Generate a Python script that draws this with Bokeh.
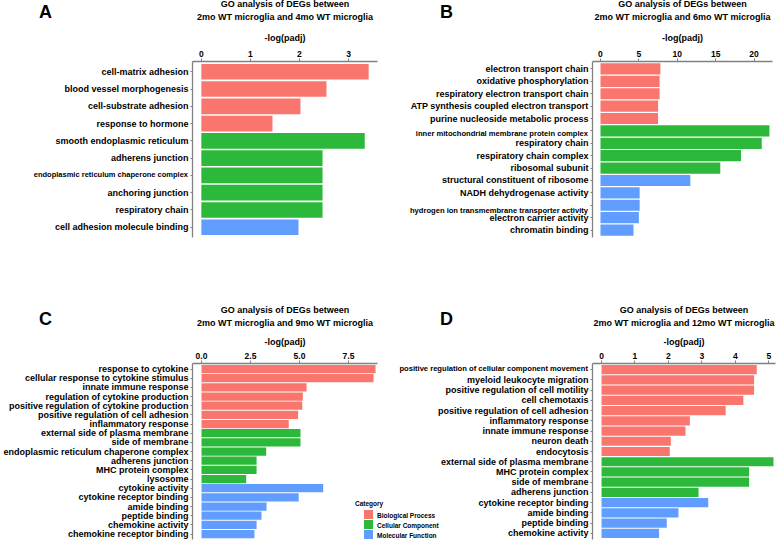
from bokeh.plotting import figure
from bokeh.models import (ColumnDataSource, FactorRange, Range1d, FixedTicker, Title, Div,
                          NumeralTickFormatter, CustomJSTickFormatter)
from bokeh.layouts import row, column
from bokeh.embed import file_html
from bokeh.resources import INLINE

FONT = "Liberation Sans"
CAT_CODES = ["BP", "CC", "MF"]
CAT_NAMES = {"BP": "Biological Process", "CC": "Cellular Component", "MF": "Molecular Function"}
CAT_COLORS = {"BP": "#F8766D", "CC": "#2CB83A", "MF": "#619CFF"}

# ---- Panel A: 2mo vs 4mo ----
a_terms = ["cell-matrix adhesion", "blood vessel morphogenesis", "cell-substrate adhesion",
           "response to hormone", "smooth endoplasmic reticulum", "adherens junction",
           "endoplasmic reticulum chaperone complex", "anchoring junction", "respiratory chain",
           "cell adhesion molecule binding"]
a_values = [3.41, 2.55, 2.02, 1.45, 3.33, 2.47, 2.47, 2.47, 2.47, 1.98]
a_cats = ["BP", "BP", "BP", "BP", "CC", "CC", "CC", "CC", "CC", "MF"]
a_small = ["endoplasmic reticulum chaperone complex"]
a_ticks = [0, 1, 2, 3]

# ---- Panel B: 2mo vs 6mo ----
b_terms = ["electron transport chain", "oxidative phosphorylation",
           "respiratory electron transport chain", "ATP synthesis coupled electron transport",
           "purine nucleoside metabolic process", "inner mitochondrial membrane protein complex",
           "respiratory chain", "respiratory chain complex", "ribosomal subunit",
           "structural constituent of ribosome", "NADH dehydrogenase activity",
           "hydrogen ion transmembrane transporter activity", "electron carrier activity",
           "chromatin binding"]
b_values = [7.8, 7.7, 7.7, 7.5, 7.5, 22.0, 21.0, 18.3, 15.6, 11.7, 5.1, 5.1, 5.0, 4.3]
b_cats = ["BP"] * 5 + ["CC"] * 4 + ["MF"] * 5
b_small = ["inner mitochondrial membrane protein complex",
           "hydrogen ion transmembrane transporter activity"]
b_ticks = [0, 5, 10, 15, 20]

# ---- Panel C: 2mo vs 9mo ----
c_terms = ["response to cytokine", "cellular response to cytokine stimulus",
           "innate immune response", "regulation of cytokine production",
           "positive regulation of cytokine production", "positive regulation of cell adhesion",
           "inflammatory response", "external side of plasma membrane", "side of membrane",
           "endoplasmic reticulum chaperone complex", "adherens junction", "MHC protein complex",
           "lysosome", "cytokine activity", "cytokine receptor binding", "amide binding",
           "peptide binding", "chemokine activity", "chemokine receptor binding"]
c_values = [8.88, 8.78, 5.36, 5.17, 5.14, 4.93, 4.45, 5.05, 5.05, 3.30, 2.81, 2.81, 2.28,
            6.21, 4.96, 3.32, 3.06, 2.81, 2.70]
c_cats = ["BP"] * 7 + ["CC"] * 6 + ["MF"] * 6
c_small = []
c_ticks = [0, 2.5, 5, 7.5]

# ---- Panel D: 2mo vs 12mo ----
d_terms = ["positive regulation of cellular component movement", "myeloid leukocyte migration",
           "positive regulation of cell motility", "cell chemotaxis",
           "positive regulation of cell adhesion", "inflammatory response",
           "innate immune response", "neuron death", "endocytosis",
           "external side of plasma membrane", "MHC protein complex", "side of membrane",
           "adherens junction", "cytokine receptor binding", "amide binding", "peptide binding",
           "chemokine activity"]
d_values = [4.64, 4.56, 4.56, 4.24, 3.71, 2.64, 2.51, 2.07, 2.04, 5.14, 4.41, 4.41, 2.90,
            3.19, 2.30, 1.95, 1.72]
d_cats = ["BP"] * 9 + ["CC"] * 4 + ["MF"] * 4
d_small = ["positive regulation of cellular component movement"]
d_ticks = [0, 1, 2, 3, 4, 5]

AXIS_COLOR = "#808080"


def style_text(obj, prefix, size):
    setattr(obj, prefix + "text_font", FONT)
    setattr(obj, prefix + "text_font_size", size)
    setattr(obj, prefix + "text_font_style", "bold")
    setattr(obj, prefix + "text_color", "black")


def panel(terms, values, cats, small, ticks, months, xr, width, height,
          bl, br, bt, bb, stand, fmt=None):
    factors = terms[::-1]
    p = figure(width=width, height=height, title=None,
               y_range=FactorRange(factors=factors, range_padding=0.1,
                                   range_padding_units="absolute"),
               x_range=Range1d(*xr), x_axis_location="above",
               output_backend="svg", toolbar_location=None,
               min_border_left=bl, min_border_right=br,
               min_border_top=bt, min_border_bottom=bb)
    p.border_fill_color = None
    p.background_fill_color = None
    p.outline_line_color = None
    p.xgrid.grid_line_color = None
    p.ygrid.grid_line_color = None

    for code in CAT_CODES:
        ys = [t for t, c in zip(terms, cats) if c == code]
        vs = [v for v, c in zip(values, cats) if c == code]
        if not ys:
            continue
        src = ColumnDataSource(dict(y=ys, right=vs))
        p.hbar(y="y", left=0, right="right", height=0.9, source=src,
               fill_color=CAT_COLORS[code], line_color=None)

    xa = p.xaxis[0]
    xa.ticker = FixedTicker(ticks=ticks)
    if fmt:
        xa.formatter = NumeralTickFormatter(format=fmt)
    xa.axis_label = "-log(padj)"
    style_text(xa, "axis_label_", "9px")
    xa.axis_label_standoff = stand[0]
    style_text(xa, "major_label_", "8.5px")
    xa.major_label_standoff = 2
    xa.major_tick_out = 3
    xa.major_tick_in = 0
    xa.minor_tick_line_color = None
    xa.axis_line_color = AXIS_COLOR
    xa.axis_line_width = 1.3
    xa.major_tick_line_color = AXIS_COLOR

    ya = p.yaxis[0]
    style_text(ya, "major_label_", "9px")
    ya.major_label_standoff = 2
    ya.major_tick_out = 2
    ya.major_tick_in = 0
    ya.axis_line_color = AXIS_COLOR
    ya.axis_line_width = 1.3
    ya.major_tick_line_color = AXIS_COLOR
    if small:
        # these terms are written in a smaller type next to the axis (see small_labels)
        ya.formatter = CustomJSTickFormatter(args=dict(small=small),
                                             code="return small.includes(tick) ? '' : tick")

    t2 = Title(text="2mo WT microglia and %s WT microglia" % months, align="center",
               standoff=stand[1])
    t1 = Title(text="GO analysis of DEGs between", align="center", standoff=stand[2])
    for t in (t2, t1):
        style_text(t, "", "9px")
        p.add_layout(t, "above")
    return p


def overlay_margin(left, top, width, cursor):
    # zero net width: the item is laid over what precedes it in the row
    return (top, cursor - left - width, 0, left - cursor)


def overlay(text, left, top, width, height, cursor, size, align="left", line=None):
    return Div(text=text, width=width, height=height,
               margin=overlay_margin(left, top, width, cursor),
               styles={"font-family": FONT, "font-size": size, "font-weight": "bold",
                       "line-height": "%dpx" % (line or height), "color": "black",
                       "white-space": "nowrap", "text-align": align})


def small_labels(terms, small, frame_left, frame_top, frame_h, cursor, size):
    pitch = frame_h / (len(terms) + 0.2)
    out = []
    for s in small:
        cy = frame_top + (0.6 + terms.index(s)) * pitch
        out.append(overlay(s, frame_left - 4 - 230, round(cy - 5), 230, 10, cursor, size,
                           align="right"))
    return out


def legend_div(left, top, cursor):
    rows = ["<div style='line-height:10px;margin-bottom:1px'>Category</div>"]
    for code in CAT_CODES:
        rows.append(
            "<div style='height:10px;line-height:10px;margin-left:9px;white-space:nowrap'>"
            "<span style='display:inline-block;width:9px;height:9px;margin-right:4px;"
            "vertical-align:-1px;background:%s'></span>%s</div>"
            % (CAT_COLORS[code], CAT_NAMES[code]))
    return overlay("".join(rows), left, top, 90, 42, cursor, "6.5px", line=10)


# geometry (pixels)
TOP_H, BOT_H = 250, 295
A_W, B_W, C_W, D_W = 385, 393, 385, 393
W = A_W + B_W

pA = panel(a_terms, a_values, a_cats, a_small, a_ticks, "4mo", (-0.18, 3.59),
           A_W, TOP_H, 192, 8, 61, 13, (5, 15, -12))
pB = panel(b_terms, b_values, b_cats, b_small, b_ticks, "6mo", (-1.04, 22.4),
           B_W, TOP_H, 207, 6, 61, 5, (5, 15, -12))
pC = panel(c_terms, c_values, c_cats, c_small, c_ticks, "9mo", (-0.46, 8.98),
           C_W, BOT_H, 192, 8, 113, 6, (3, 12, -11), fmt="0.0")
pD = panel(d_terms, d_values, d_cats, d_small, d_ticks, "12mo", (-0.27, 5.2),
           D_W, BOT_H, 207, 3, 113, 3, (3, 12, -11))

top = row(pA, overlay("A", 39, 2, 20, 20, A_W, "18px"),
          *small_labels(a_terms, a_small, 192, 61, TOP_H - 61 - 13, A_W, "7.5px"),
          pB, overlay("B", 440, 2, 20, 20, W, "18px"),
          *small_labels(b_terms, b_small, A_W + 207, 61, TOP_H - 61 - 5, W, "7.6px"))
bottom = row(pC, overlay("C", 39, 59, 20, 20, C_W, "18px"),
             legend_div(355, 499 - TOP_H, C_W),
             pD, overlay("D", 440, 59, 20, 20, W, "18px"),
             *small_labels(d_terms, d_small, C_W + 207, 113, BOT_H - 113 - 3, W, "7.6px"))
layout = column(top, bottom)
open("out.html", "w").write(file_html(layout, INLINE))
